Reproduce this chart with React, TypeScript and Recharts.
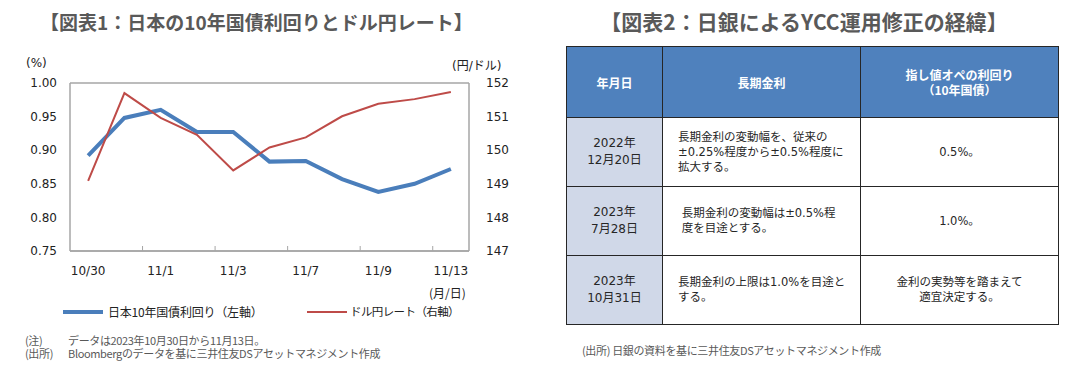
import { LineChart, Line, XAxis, YAxis, CartesianGrid } from 'recharts'

/** 日付 (10/30〜11/13, 営業日) */
const dates = ['10/30', '10/31', '11/1', '11/2', '11/3', '11/6', '11/7', '11/8', '11/9', '11/10', '11/13']
/** 日本10年国債利回り (%) */
const jgbYield = [0.892, 0.948, 0.96, 0.927, 0.927, 0.883, 0.884, 0.857, 0.838, 0.85, 0.872]
/** ドル円レート (円/ドル) */
const usdJpy = [149.09, 151.7, 150.96, 150.46, 149.4, 150.08, 150.38, 151.01, 151.38, 151.52, 151.73]

const leftTicks = [0.75, 0.8, 0.85, 0.9, 0.95, 1.0]
const rightTicks = [147, 148, 149, 150, 151, 152]

/** 図表2 の表 */
const tableHead = ['年月日', '長期金利', '指し値オペの利回り\n（10年国債）']
const tableDates = ['2022年\n12月20日', '2023年\n7月28日', '2023年\n10月31日']
const tableRates = [
  '長期金利の変動幅を、従来の\n±0.25%程度から±0.5%程度に\n拡大する。',
  ' 長期金利の変動幅は±0.5%程\n 度を目途とする。',
  '長期金利の上限は1.0%を目途と\nする。',
]
const tableOps = ['0.5%。', '1.0%。', '金利の実勢等を踏まえて\n適宜決定する。']

const data = dates.map((d, i) => ({ date: d, jgb: jgbYield[i], usdjpy: usdJpy[i] }))

const FONT = '"DejaVu Sans", "Noto Sans CJK JP", sans-serif'
const JP = '"Noto Sans CJK JP", sans-serif'
const GRID = '#a6a6a6'
const BLUE = '#4a7ebb'
const RED = '#be4b48'
const TEXT = '#595959'

const PLOT_W = 399
const BAND = PLOT_W / dates.length

function XTick(props: any) {
  const { x, y, payload, index } = props
  return (
    <g>
      {index > 0 && (
        <line x1={x - BAND / 2} x2={x - BAND / 2} y1={y} y2={y - 5} stroke={GRID} />
      )}
      <text x={x} y={y + 24} textAnchor="middle" fontSize={12} fill="#222" fontFamily={FONT}>
        {payload.value}
      </text>
    </g>
  )
}

const abs = (left: number, top: number, extra: any = {}) => ({
  position: 'absolute' as const,
  left,
  top,
  whiteSpace: 'pre' as const,
  ...extra,
})

const note = { fontSize: 11, lineHeight: '13px', letterSpacing: -0.35 }
const cellBorder = '1.5px solid #262626'

export default function App() {
  return (
    <div style={{ position: 'absolute', left: 0, top: 0, width: 1087, height: 376, background: '#fff', fontFamily: JP, color: TEXT }}>
      {/* 図表1 */}
      <div style={abs(40, 8, { width: 430, textAlign: 'center', fontSize: 19, fontWeight: 700, color: TEXT })}>
        【図表1：日本の10年国債利回りとドル円レート】
      </div>
      <div style={abs(26, 56, { fontSize: 12, color: '#222', fontFamily: FONT })}>(%)</div>
      <div style={abs(452, 56, { fontSize: 12, color: '#222', fontFamily: FONT })}>(円/ドル)</div>
      <div style={{ position: 'absolute', left: 0, top: 0 }}>
        <LineChart width={540} height={300} data={data} margin={{ top: 83, right: 31, bottom: 19, left: 0 }}>
          <CartesianGrid vertical={false} stroke={GRID} strokeWidth={1.5} />
          <XAxis
            dataKey="date"
            interval={1}
            height={30}
            padding={{ left: BAND / 2, right: BAND / 2 }}
            tickSize={0}
            tickMargin={0}
            tickLine={false}
            axisLine={{ stroke: GRID, strokeWidth: 1.5 }}
            tick={<XTick />}
          />
          <YAxis
            yAxisId="left"
            domain={[0.75, 1.0]}
            ticks={leftTicks}
            width={70}
            tickLine={false}
            tickMargin={7}
            axisLine={{ stroke: GRID, strokeWidth: 1.5 }}
            tickFormatter={(v: number) => v.toFixed(2)}
            tick={{ fill: '#222', fontSize: 12, fontFamily: FONT }}
          />
          <YAxis
            yAxisId="right"
            orientation="right"
            domain={[147, 152]}
            ticks={rightTicks}
            width={40}
            tickLine={false}
            tickMargin={11}
            axisLine={{ stroke: GRID, strokeWidth: 1.5 }}
            tick={{ fill: '#222', fontSize: 12, fontFamily: FONT }}
          />
          <Line yAxisId="left" dataKey="jgb" stroke={BLUE} strokeWidth={4} dot={false} isAnimationActive={false} />
          <Line yAxisId="right" dataKey="usdjpy" stroke={RED} strokeWidth={2} dot={false} isAnimationActive={false} />
        </LineChart>
      </div>
      <div style={abs(429, 284, { fontSize: 12, color: '#222' })}>(月/日)</div>
      {/* 凡例 */}
      <div style={abs(63, 310, { width: 40, height: 4, background: BLUE })} />
      <div style={abs(108, 303, { fontSize: 12, color: '#222', letterSpacing: -0.2 })}>日本10年国債利回り（左軸）</div>
      <div style={abs(307, 311, { width: 40, height: 2, background: RED })} />
      <div style={abs(350, 303, { fontSize: 11.5, color: '#222', letterSpacing: -0.6 })}>ドル円レート（右軸）</div>
      {/* 注記 */}
      <div style={abs(25, 333.5, note)}>{'(注)\n(出所)'}</div>
      <div style={abs(68, 333.5, note)}>
        {'データは2023年10月30日から11月13日。\nBloombergのデータを基に三井住友DSアセットマネジメント作成'}
      </div>

      {/* 図表2 */}
      <div style={abs(596, 6, { width: 416, textAlign: 'center', fontSize: 21, fontWeight: 700, color: TEXT })}>
        【図表2：日銀によるYCC運用修正の経緯】
      </div>
      <table
        style={{
          position: 'absolute',
          left: 566,
          top: 46,
          width: 492,
          borderCollapse: 'collapse',
          fontFamily: FONT,
          fontSize: 12,
          color: '#262626',
          tableLayout: 'fixed',
        }}
      >
        <colgroup>
          <col style={{ width: 96 }} />
          <col style={{ width: 198 }} />
          <col style={{ width: 198 }} />
        </colgroup>
        <thead>
          <tr style={{ height: 71 }}>
            {tableHead.map((h) => (
              <th
                key={h}
                style={{
                  background: '#4f81bd',
                  color: '#fff',
                  border: cellBorder,
                  fontFamily: JP,
                  fontSize: 12,
                  fontWeight: 700,
                  whiteSpace: 'pre',
                  lineHeight: '15px',
                  padding: 0,
                }}
              >
                {h}
              </th>
            ))}
          </tr>
        </thead>
        <tbody>
          {tableDates.map((d, i) => (
            <tr key={d} style={{ height: 69 }}>
              <td style={{ background: '#d0d8e8', border: cellBorder, textAlign: 'center', whiteSpace: 'pre', lineHeight: '17px', padding: 0 }}>
                {d}
              </td>
              <td style={{ border: cellBorder, whiteSpace: 'pre', lineHeight: '15px', padding: '0 0 0 15px', fontSize: 11.5 }}>
                {tableRates[i]}
              </td>
              <td style={{ border: cellBorder, textAlign: 'center', whiteSpace: 'pre', lineHeight: '15px', padding: 0, fontSize: 11.5 }}>
                {tableOps[i]}
              </td>
            </tr>
          ))}
        </tbody>
      </table>
      <div style={abs(582, 343.5, note)}>(出所) 日銀の資料を基に三井住友DSアセットマネジメント作成</div>
    </div>
  )
}
